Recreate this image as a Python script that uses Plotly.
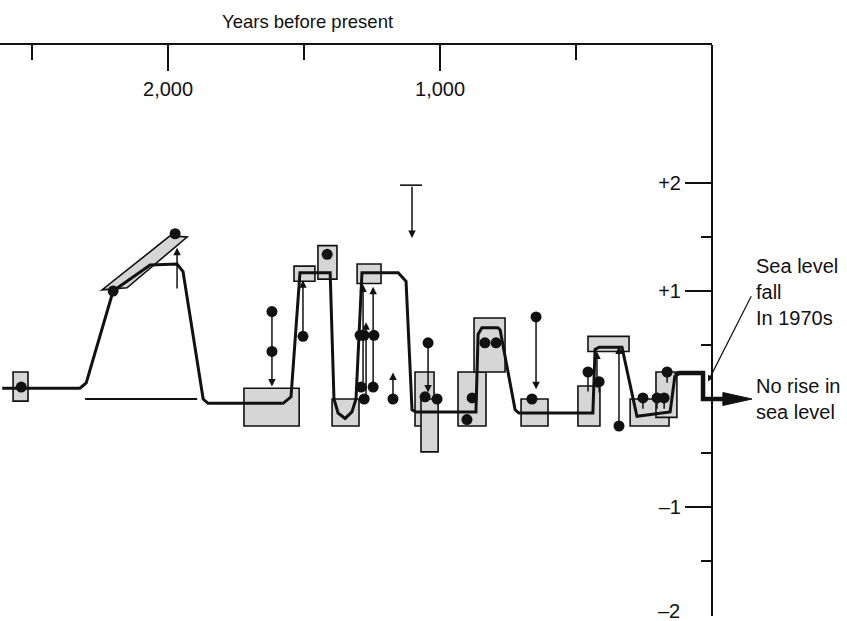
import plotly.graph_objects as go

# ---------------- data (years before present, sea level units) ----------------
curve_years = [2610, 2324, 2301, 2202, 2066, 1967, 1945, 1871, 1853, 1577, 1548, 1515,
               1404, 1390, 1375, 1349, 1324, 1309, 1287, 1154, 1125, 1103, 1088, 868,
               860, 846, 787, 779, 724, 710, 438, 430, 415, 331, 276, 154, 136]
curve_level = [0.10, 0.10, 0.15, 1.00, 1.24, 1.25, 1.18, 0.00, -0.04, -0.04, 0.02, 1.17,
               1.17, 0.00, -0.13, -0.18, -0.12, 0.00, 1.17, 1.17, 1.09, -0.10, -0.12, -0.12,
               0.60, 0.66, 0.66, 0.64, -0.10, -0.13, -0.13, 0.46, 0.48, 0.48, -0.16, -0.12, 0.22]

recent_years = [136, 121, 33, 33, -40]
recent_level = [0.22, 0.24, 0.24, 0.00, 0.00]
arrow_tip_year = -147
arrow_tip_level = 0.0

base_years = [2305, 1893]
base_level = [0.0, 0.0]

box_yr0 = [2570, 1721, 1537, 1449, 1397, 1305, 1092, 1070, 934, 875, 702, 493, 456, 301, 206]
box_yr1 = [2515, 1518, 1460, 1379, 1298, 1217, 1022, 1007, 831, 761, 603, 412, 305, 158, 129]
box_lo = [-0.02, -0.25, 1.09, 1.11, -0.25, 1.07, -0.25, -0.49, -0.25, 0.25, -0.25, -0.25, 0.44, -0.25, -0.17]
box_hi = [0.25, 0.10, 1.23, 1.42, 0.00, 1.25, 0.25, 0.00, 0.25, 0.75, 0.00, 0.12, 0.58, 0.00, 0.25]

para_years = [2243, 2151, 1930, 1993]
para_level = [1.01, 1.03, 1.50, 1.51]

dot_years = [2540, 2202, 1974, 1618, 1618, 1504, 1415, 1294, 1279, 1243, 1290, 1246,
             1279, 1173, 1044, 1055, 1011, 882, 901, 835, 794, 647, 662, 342]
dot_level = [0.11, 1.00, 1.53, 0.81, 0.44, 0.58, 1.34, 0.59, 0.59, 0.59, 0.11, 0.11,
             0.00, 0.00, 0.52, 0.02, 0.00, 0.01, -0.19, 0.52, 0.52, 0.76, 0.00, -0.25]

stem_years = [456, 415, 254, 202, 176, 165]
stem_level = [0.25, 0.16, 0.01, 0.01, 0.01, 0.25]
stem_len = [0.18, 0.10, 0.10, 0.10, 0.10, 0.10]

arrow_tail_year = [1967, 1618, 1504, 1283, 1246, 1272, 1173, 1103, 1044, 647, 423, 342]
arrow_tail_level = [1.01, 0.81, 0.58, 0.11, 0.11, 0.00, 0.00, 1.98, 0.52, 0.76, 0.09, -0.25]
arrow_head_level = [1.40, 0.115, 1.10, 1.06, 1.04, 0.71, 0.245, 1.49, 0.06, 0.09, 0.44, 0.485]

tbar_years = [1147, 1066]
tbar_level = [1.98, 1.98]

top_major_vals = [2000, 1000]
top_major_text = ["2,000", "1,000"]
top_minor_vals = [2500, 1500, 500]
right_major_vals = [2, 1, -1, -2]
right_major_text = ["+2", "+1", "\u20131", "\u20132"]
right_minor_vals = [1.5, 0.5, -0.5, -1.5]

# ---------------- geometry ----------------
W, H = 847, 621
AXIS_PX = 712           # pixel position of right axis (year 0)
LEFT_YEAR = 2618        # year at left edge of page
PX_PER_YEAR = AXIS_PX / LEFT_YEAR
TOP_PX, BOT_PX = 45, 616
ZERO_PX = 399
PX_PER_UNIT = 108
Y_TOP = (ZERO_PX - TOP_PX) / PX_PER_UNIT
Y_BOTTOM = (ZERO_PX - BOT_PX) / PX_PER_UNIT

FONT = "Liberation Sans, Arial, Helvetica, sans-serif"
INK = "#111111"
BOX_FILL = "#d6d6d6"

fig = go.Figure()

# boxes
for x0, x1, y0, y1 in zip(box_yr0, box_yr1, box_lo, box_hi):
    fig.add_shape(type="rect", xref="x", yref="y", x0=x0, x1=x1, y0=y0, y1=y1,
                  fillcolor=BOX_FILL, line=dict(color=INK, width=1.6), layer="below")
# parallelogram
path = "M " + " L ".join(f"{a},{b}" for a, b in zip(para_years, para_level)) + " Z"
fig.add_shape(type="path", xref="x", yref="y", path=path,
              fillcolor=BOX_FILL, line=dict(color=INK, width=1.6), layer="below")

# thin baseline
fig.add_trace(go.Scatter(x=base_years, y=base_level, mode="lines",
                         line=dict(color=INK, width=1.8), hoverinfo="skip"))
# T bar
fig.add_trace(go.Scatter(x=tbar_years, y=tbar_level, mode="lines",
                         line=dict(color=INK, width=1.6), hoverinfo="skip"))
# main curve
fig.add_trace(go.Scatter(x=curve_years, y=curve_level, mode="lines",
                         line=dict(color=INK, width=3), hoverinfo="skip"))
fig.add_trace(go.Scatter(x=recent_years, y=recent_level, mode="lines",
                         line=dict(color=INK, width=4.5), hoverinfo="skip"))
# arrow head of main curve
head_half = 0.06
fig.add_trace(go.Scatter(
    x=[recent_years[-1], arrow_tip_year, recent_years[-1], recent_years[-1]],
    y=[arrow_tip_level + head_half, arrow_tip_level, arrow_tip_level - head_half,
       arrow_tip_level + head_half],
    mode="lines", fill="toself", fillcolor=INK, line=dict(color=INK, width=1),
    hoverinfo="skip"))

# dots
fig.add_trace(go.Scatter(x=dot_years, y=dot_level, mode="markers",
                         marker=dict(color=INK, size=11), hoverinfo="skip"))
fig.add_trace(go.Scatter(x=stem_years, y=stem_level, mode="markers",
                         marker=dict(color=INK, size=11), hoverinfo="skip",
                         error_y=dict(type="data", symmetric=False,
                                      array=[0] * len(stem_len), arrayminus=stem_len,
                                      color=INK, thickness=1.5, width=0)))

# vertical arrows
for xt, yt, yh in zip(arrow_tail_year, arrow_tail_level, arrow_head_level):
    fig.add_annotation(x=xt, y=yh, ax=xt, ay=yt, xref="x", yref="y", axref="x", ayref="y",
                       text="", showarrow=True, arrowhead=2, arrowsize=1,
                       arrowwidth=1.5, arrowcolor=INK, standoff=0)

# invisible trace for the top axis
fig.add_trace(go.Scatter(x=[1000], y=[0], xaxis="x2", yaxis="y", mode="markers",
                         marker=dict(opacity=0), hoverinfo="skip"))

# right-side annotations
fig.add_annotation(x=14.7, y=0.162, ax=-147, ay=0.965, xref="x", yref="y",
                   axref="x", ayref="y", text="", showarrow=True, arrowhead=2,
                   arrowsize=1, arrowwidth=1.2, arrowcolor=INK, standoff=0)
fig.add_annotation(x=-155, y=0.99, xref="x", yref="y", text="Sea level<br>fall<br>In 1970s",
                   showarrow=False, xanchor="left", yanchor="middle", align="left",
                   font=dict(family=FONT, size=20, color=INK))
fig.add_annotation(x=-155, y=0.0, xref="x", yref="y", text="No rise in<br>sea level",
                   showarrow=False, xanchor="left", yanchor="middle", align="left",
                   font=dict(family=FONT, size=20, color=INK))
fig.add_annotation(x=1489, y=(H - 21) / H, xref="x", yref="paper", text="Years before present",
                   showarrow=False, xanchor="center", yanchor="middle",
                   font=dict(family=FONT, size=18.5, color=INK))

# the lowest tick label sits on the axis end, so it is placed as an annotation
low_val = min(right_major_vals)
tick_text_shown = [("" if v == low_val else t) for v, t in zip(right_major_vals, right_major_text)]
low_text = right_major_text[right_major_vals.index(low_val)]
fig.add_annotation(x=(AXIS_PX - 31) / W, y=low_val, xref="paper", yref="y", text=low_text,
                   showarrow=False, xanchor="right", yanchor="middle", yshift=4,
                   borderpad=0, font=dict(family=FONT, size=20, color=INK))

right_year = LEFT_YEAR - W / PX_PER_YEAR
fig.update_layout(
    width=W, height=H, margin=dict(l=0, r=0, t=0, b=0, autoexpand=False),
    paper_bgcolor="white", plot_bgcolor="rgba(0,0,0,0)", showlegend=False,
    font=dict(family=FONT, size=20, color=INK),
    xaxis=dict(domain=[0, 1], range=[LEFT_YEAR, right_year], visible=False, anchor="y"),
    xaxis2=dict(domain=[0, AXIS_PX / W], range=[LEFT_YEAR, 0],
                anchor="y", side="top", showline=True, linecolor=INK, linewidth=2,
                showgrid=False, zeroline=False, ticks="inside", ticklen=26, tickwidth=2,
                tickcolor=INK, tickmode="array", tickvals=top_major_vals,
                ticktext=top_major_text, ticklabelposition="inside",
                ticklabelstandoff=12,
                tickfont=dict(family=FONT, size=20, color=INK),
                minor=dict(tickmode="array", tickvals=top_minor_vals, ticklen=15,
                           tickwidth=2, tickcolor=INK, ticks="inside", showgrid=False)),
    yaxis=dict(domain=[(H - BOT_PX) / H, (H - TOP_PX) / H], range=[Y_BOTTOM, Y_TOP],
               anchor="free", position=AXIS_PX / W, side="right",
               showline=True, linecolor=INK, linewidth=2, showgrid=False, zeroline=False,
               ticks="inside", ticklen=26, tickwidth=2, tickcolor=INK,
               tickmode="array", tickvals=right_major_vals, ticktext=tick_text_shown,
               ticklabelposition="inside", ticklabelstandoff=5,
               tickfont=dict(family=FONT, size=20, color=INK),
               minor=dict(tickmode="array", tickvals=right_minor_vals, ticklen=10,
                          tickwidth=2, tickcolor=INK, ticks="inside", showgrid=False)),
)

fig.write_html("out.html", config={"displayModeBar": False},
               post_script="document.body.style.margin='0px';")
